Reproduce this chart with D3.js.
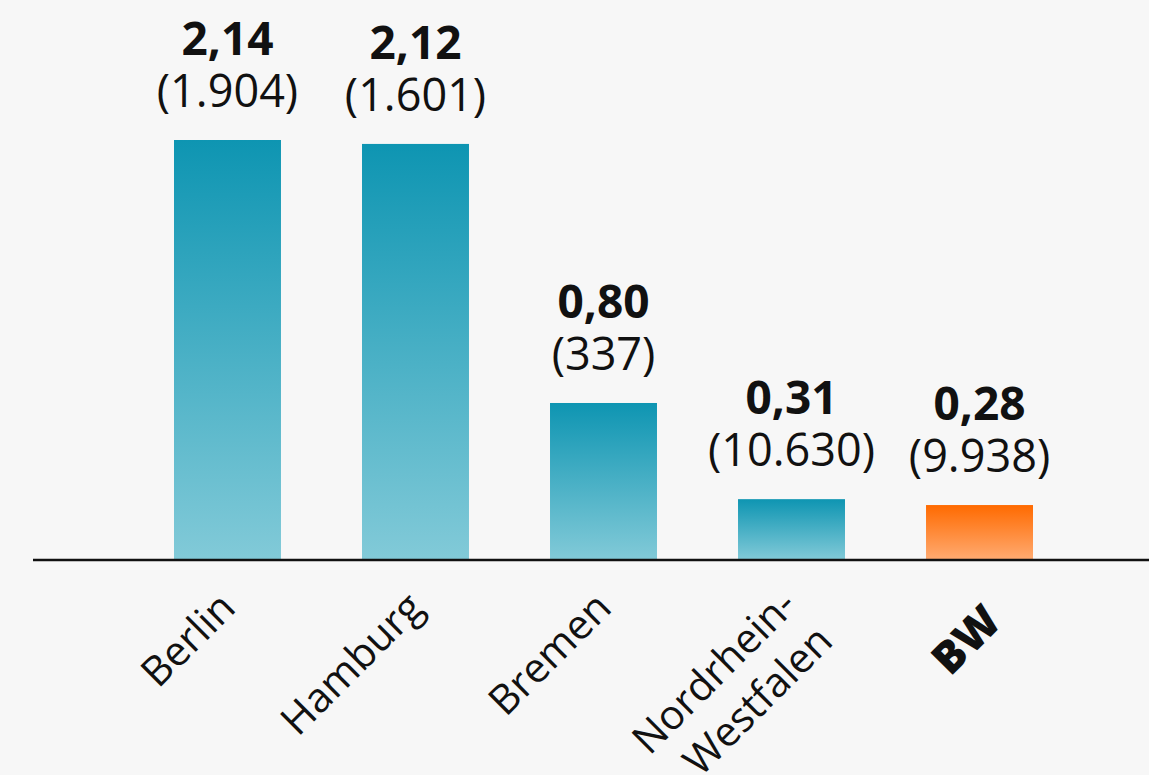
<!DOCTYPE html>
<html>
<head>
<meta charset="utf-8">
<script src="https://cdn.jsdelivr.net/npm/d3@7"></script>
<style>
  html, body { margin: 0; padding: 0; background: #f7f7f7; }
  svg { display: block; font-family: "Open Sans", sans-serif; }
</style>
</head>
<body>
<svg id="chart" width="1149" height="775"></svg>
<script>
const categories = ["Berlin", "Hamburg", "Bremen", "Nordrhein-Westfalen", "BW"];
const values = [2.14, 2.12, 0.80, 0.31, 0.28];
const counts = [1904, 1601, 337, 10630, 9938];
const highlight = "BW";

const W = 1149, H = 775;
const baseY = 560;
const svg = d3.select("#chart");

const de = d3.formatLocale({ decimal: ",", thousands: ".", grouping: [3], currency: ["", " €"] });
const fmtVal = de.format(".2f");
const fmtCount = de.format(",d");

const x = d3.scaleBand()
  .domain(categories)
  .range([80, 1127])
  .paddingInner(0.431)
  .paddingOuter(0.5);

const y = d3.scaleLinear()
  .domain([0, 2.14])
  .range([baseY, 140]);

const defs = svg.append("defs");
function grad(id, top, bottom) {
  const g = defs.append("linearGradient").attr("id", id)
    .attr("x1", 0).attr("y1", 0).attr("x2", 0).attr("y2", 1);
  g.append("stop").attr("offset", "0%").attr("stop-color", top);
  g.append("stop").attr("offset", "100%").attr("stop-color", bottom);
}
grad("gTeal", "#0e95b2", "#82cad8");
grad("gOrange", "#ff6a00", "#ffab72");

const data = categories.map((c, i) => ({ c, v: values[i], n: counts[i] }));

svg.append("g").selectAll("rect").data(data).join("rect")
  .attr("x", d => x(d.c))
  .attr("width", x.bandwidth())
  .attr("y", d => y(d.v))
  .attr("height", d => baseY - y(d.v))
  .attr("fill", d => d.c === highlight ? "url(#gOrange)" : "url(#gTeal)");

// axis line
svg.append("line")
  .attr("x1", 33).attr("x2", W)
  .attr("y1", baseY).attr("y2", baseY)
  .attr("stroke", "#111").attr("stroke-width", 2.5);

// value labels
const vl = svg.append("g").selectAll("g").data(data).join("g")
  .attr("transform", d => `translate(${x(d.c) + x.bandwidth() / 2},${y(d.v)})`);
vl.append("text")
  .attr("text-anchor", "middle")
  .attr("y", -85)
  .attr("font-size", 46)
  .attr("font-weight", 700)
  .attr("fill", "#111")
  .text(d => fmtVal(d.v));
vl.append("text")
  .attr("text-anchor", "middle")
  .attr("y", -33)
  .attr("font-size", 45)
  .attr("font-weight", 400)
  .attr("fill", "#111")
  .text(d => "(" + fmtCount(d.n) + ")");

// category labels
const cl = svg.append("g").selectAll("text").data(data).join("text")
  .attr("transform", d => d.c === highlight
    ? `translate(${x(d.c) + x.bandwidth() / 2 + 24},${624}) rotate(-45)`
    : `translate(${x(d.c) + x.bandwidth() / 2 + 10},${610}) rotate(-45)`)
  .attr("text-anchor", "end")
  .attr("font-size", d => d.c === highlight ? 44 : 41)
  .attr("font-weight", d => d.c === highlight ? 800 : 400)
  .attr("fill", "#111");
cl.each(function(d) {
  const parts = d.c.includes("-") ? [d.c.slice(0, d.c.indexOf("-") + 1), d.c.slice(d.c.indexOf("-") + 1)] : [d.c];
  const t = d3.select(this);
  parts.forEach((p, i) => {
    t.append("tspan").attr("x", 0).attr("dy", i === 0 ? (parts.length > 1 ? "-0.1em" : 0) : "1.25em").text(p);
  });
});
</script>
</body>
</html>
